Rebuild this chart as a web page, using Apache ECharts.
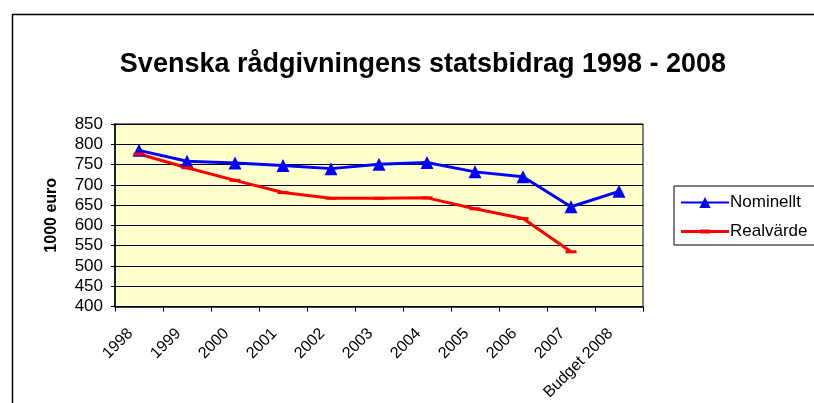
<!DOCTYPE html>
<html>
<head>
<meta charset="utf-8">
<script src="https://cdn.jsdelivr.net/npm/echarts@6/dist/echarts.min.js"></script>
<style>
  html, body { margin: 0; padding: 0; background: #fff; }
  #main { width: 814px; height: 403px; }
</style>
</head>
<body>
<div id="main"></div>
<script>
var categories = ['1998', '1999', '2000', '2001', '2002', '2003', '2004', '2005', '2006', '2007', 'Budget 2008'];
var nominellt = [785, 758, 754, 748, 740, 751, 755, 732, 720, 646, 684];
var realvarde = [776, 742, 711, 681, 667, 667, 668, 641, 617, 535, null];
var yTicks = [400, 450, 500, 550, 600, 650, 700, 750, 800, 850];

var chart = echarts.init(document.getElementById('main'), null, { renderer: 'canvas' });

// linje med kort streck i mitten, som legendikon for Realvärde
var dashIcon = 'path://M0,0 L0,0 M0,14 L0,14 M0,5.5 H48 V8.5 H0 Z M19,5 H29 V9 H19 Z';

var option = {
  backgroundColor: '#fff',
  animation: false,
  textStyle: { fontFamily: 'Liberation Sans, Arial, sans-serif' },
  graphic: [{
    // ram runt diagrammet
    type: 'rect',
    left: 10, top: 12,
    shape: { width: 900, height: 500 },
    style: { fill: 'none', stroke: '#000', lineWidth: 1.5 },
    z: -1
  }],
  title: {
    text: 'Svenska rådgivningens statsbidrag 1998 - 2008',
    left: 418, top: 46,
    textAlign: 'center',
    textStyle: { fontSize: 27, fontWeight: 'bold', color: '#000' }
  },
  legend: {
    orient: 'vertical',
    left: 674, top: 186,
    padding: [8, 80, 5, 6],
    itemGap: 12,
    itemWidth: 48, itemHeight: 14,
    borderColor: '#000', borderWidth: 1,
    textStyle: { fontSize: 17, color: '#000', padding: [0, 0, 0, -4] },
    data: ['Nominellt', { name: 'Realvärde', icon: dashIcon }]
  },
  grid: { left: 115, top: 124, width: 528, height: 185, containLabel: false,
    show: true, backgroundColor: '#ffffcc', borderColor: '#000', borderWidth: 1 },
  xAxis: {
    type: 'category',
    data: categories,
    boundaryGap: true,
    axisLine: { lineStyle: { color: '#000', width: 1.5 } },
    axisTick: { show: true, length: 5, lineStyle: { color: '#000' } },
    axisLabel: { rotate: 45, fontSize: 16, color: '#000', margin: 16, interval: 0, padding: [0, 12, 0, 0] }
  },
  yAxis: {
    type: 'value',
    min: yTicks[0], max: yTicks[yTicks.length - 1], interval: 50,
    name: '1000 euro',
    nameLocation: 'middle',
    nameGap: 55,
    nameTextStyle: { fontSize: 16, fontWeight: 'bold', color: '#000' },
    axisLine: { show: true, lineStyle: { color: '#000', width: 1.5 } },
    axisTick: { show: true, length: 4, inside: false, lineStyle: { color: '#000' } },
    axisLabel: { fontSize: 17, color: '#000', margin: 12 },
    splitLine: { show: true, lineStyle: { color: '#000', width: 1 } }
  },
  series: [{
    name: 'Nominellt',
    type: 'line',
    data: nominellt,
    symbol: 'triangle',
    symbolSize: 13,
    color: '#0000ff',
    lineStyle: { color: '#0000ff', width: 3 },
    itemStyle: { color: '#0000ff' }
  }, {
    name: 'Realvärde',
    type: 'line',
    data: realvarde,
    symbol: 'rect',
    symbolSize: [11, 3],
    color: '#ff0000',
    lineStyle: { color: '#ff0000', width: 3 },
    itemStyle: { color: '#ff0000' }
  }]
};

chart.setOption(option);
</script>
</body>
</html>
